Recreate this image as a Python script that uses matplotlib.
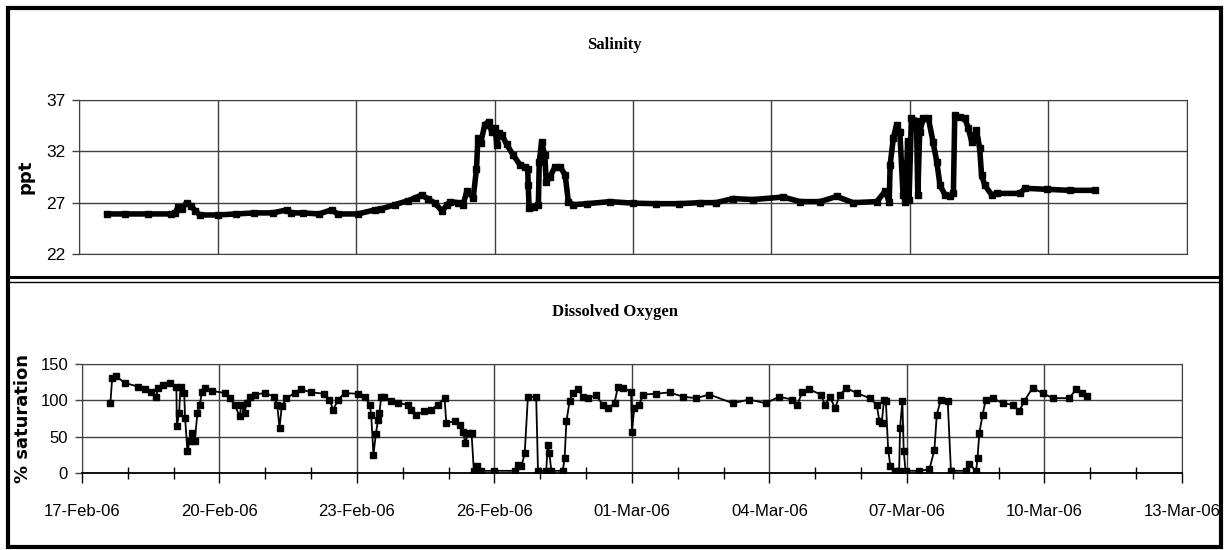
import matplotlib
matplotlib.use("Agg")
import matplotlib.pyplot as plt
import matplotlib.dates as mdates
from matplotlib.lines import Line2D
from matplotlib.patches import Rectangle
import pandas as pd

start = pd.Timestamp("2006-02-17")
end = pd.Timestamp("2006-03-13")

# salinity (ppt): days after 17-Feb-06, value
sal_days = [0.60, 1.00, 1.50, 2.00, 2.08, 2.15, 2.22, 2.33, 2.42, 2.52, 2.62, 3.00, 3.40,
            3.80, 4.20, 4.50, 4.60, 4.85, 5.20, 5.47, 5.60, 6.04, 6.41, 6.55, 6.84, 7.13,
            7.30, 7.42, 7.55, 7.71, 7.86, 7.98, 8.04, 8.20, 8.32, 8.40, 8.54, 8.61, 8.64,
            8.70, 8.79, 8.87, 8.94, 9.01, 9.05, 9.10, 9.16, 9.26, 9.41, 9.55, 9.65, 9.72,
            9.73, 9.75, 9.85, 9.95, 9.97, 10.02, 10.09, 10.12, 10.20, 10.31, 10.42, 10.53,
            10.60, 10.71, 11.00, 11.50, 12.01, 12.50, 13.00, 13.45, 13.80, 14.17, 14.60,
            15.25, 15.62, 16.05, 16.41, 16.77, 17.28, 17.46, 17.55, 17.57, 17.64, 17.71,
            17.78, 17.85, 17.90, 17.95, 17.98, 18.03, 18.14, 18.17, 18.21, 18.29, 18.40,
            18.50, 18.58, 18.65, 18.76, 18.86, 18.94, 18.97, 19.08, 19.19, 19.26, 19.34,
            19.41, 19.44, 19.51, 19.55, 19.62, 19.77, 19.88, 20.38, 20.49, 20.96, 21.46,
            22.00]
sal_vals = [25.9, 25.9, 25.9, 25.9, 26.0, 26.6, 26.4, 27.0, 26.7, 26.2, 25.8, 25.8, 25.9,
            26.0, 26.0, 26.3, 26.0, 26.0, 25.9, 26.3, 25.9, 25.9, 26.3, 26.4, 26.8, 27.2,
            27.5, 27.75, 27.4, 26.95, 26.2, 26.8, 27.1, 27.0, 26.8, 28.1, 27.5, 30.3, 33.3,
            32.8, 34.6, 34.9, 33.9, 34.3, 32.6, 33.8, 33.6, 32.7, 31.6, 30.7, 30.5, 30.3,
            28.7, 26.5, 26.6, 26.8, 31.0, 32.9, 31.6, 29.0, 29.5, 30.5, 30.5, 29.7,
            27.1, 26.8, 26.9, 27.1, 26.95, 26.9, 26.9, 27.0, 27.0, 27.4, 27.3,
            27.55, 27.1, 27.1, 27.6, 27.0, 27.1, 28.1, 27.1, 30.7, 33.3, 34.6,
            33.9, 27.75, 27.1, 33.0, 27.3, 35.2, 35.0, 27.75, 33.9, 35.2, 35.2,
            32.9, 31.0, 28.7, 27.75, 27.6, 27.9, 35.5, 35.3, 35.2, 34.3, 32.9,
            33.6, 34.1, 32.3, 29.7, 28.7, 27.75, 27.9, 27.9, 28.4, 28.3, 28.2,
            28.2]

# dissolved oxygen (% saturation)
do_days = [0.62, 0.66, 0.75, 0.93, 1.22, 1.37, 1.51, 1.62, 1.66, 1.76, 1.91, 2.06, 2.07,
           2.12, 2.15, 2.23, 2.25, 2.30, 2.35, 2.40, 2.46, 2.52, 2.57, 2.62, 2.68, 2.83,
           3.12, 3.22, 3.33, 3.44, 3.48, 3.55, 3.59, 3.66, 3.77, 3.99, 4.20, 4.26, 4.31,
           4.36, 4.46, 4.64, 4.78, 5.00, 5.29, 5.40, 5.48, 5.59, 5.73, 6.02, 6.17, 6.28,
           6.31, 6.36, 6.41, 6.46, 6.49, 6.53, 6.60, 6.75, 6.89, 7.11, 7.18, 7.29, 7.47,
           7.62, 7.76, 7.91, 7.95, 8.13, 8.25, 8.32, 8.36, 8.43, 8.50, 8.55, 8.61, 8.70,
           9.00, 9.45, 9.52, 9.59, 9.66, 9.73, 9.91, 9.95, 10.13, 10.16, 10.20, 10.24,
           10.49, 10.53, 10.57, 10.64, 10.71, 10.82, 10.93, 11.04, 11.22, 11.36, 11.47,
           11.62, 11.69, 11.80, 11.98, 12.00, 12.05, 12.16, 12.24, 12.53, 12.82, 13.11,
           13.40, 13.69, 14.20, 14.56, 14.92, 15.21, 15.50, 15.61, 15.72, 15.87, 16.12,
           16.21, 16.32, 16.43, 16.54, 16.68, 16.90, 17.19, 17.34, 17.40, 17.45, 17.50,
           17.54, 17.59, 17.64, 17.74, 17.83, 17.85, 17.90, 17.93, 17.97, 18.27, 18.49,
           18.60, 18.65, 18.74, 18.89, 18.96, 19.29, 19.36, 19.51, 19.54, 19.58, 19.65,
           19.72, 19.87, 20.09, 20.31, 20.45, 20.56, 20.74, 20.96, 21.18, 21.54, 21.69,
           21.83, 21.93]
do_vals = [97, 131, 133, 124, 119, 115, 112, 105, 117, 121, 124, 119, 64,
           83, 119, 110, 76, 30, 44, 55, 44, 83, 94, 112, 117, 113,
           110, 103, 94, 78, 94, 83, 96, 105, 108, 110, 105, 94, 62,
           92, 103, 110, 115, 111, 109, 101, 87, 101, 110, 109, 105, 94,
           80, 25, 53, 73, 83, 105, 105, 99, 96, 94, 87, 80, 85,
           87, 94, 103, 69, 71, 66, 57, 41, 55, 55, 3, 9, 3,
           3, 3, 11, 9, 27, 105, 105, 3, 3, 38, 27, 3,
           3, 20, 71, 99, 110, 115, 105, 103, 107, 94, 89,
           96, 118, 117, 112, 57, 89, 94, 108, 109, 111, 105,
           103, 108, 96, 101, 96, 105, 101, 94, 112, 115, 108,
           94, 105, 89, 108, 117, 110, 103, 94, 71, 69, 101,
           99, 32, 9, 3, 3, 62, 99, 30, 3, 3, 5,
           32, 80, 101, 99, 3, 3, 12, 3, 21, 55, 80,
           101, 103, 96, 94, 85, 99, 117, 110, 103, 103, 115,
           110, 106]

sal_t = start + pd.to_timedelta(sal_days, unit="D")
do_t = start + pd.to_timedelta(do_days, unit="D")
major = pd.date_range(start, end, freq="3D")
minor = pd.date_range(start, end, freq="D")

grid_col = "#404040"
tick_font = "Liberation Sans"

fig = plt.figure(figsize=(12.29, 5.5), dpi=100)

# --- salinity panel
ax1 = fig.add_axes([0.0643, 0.5382, 0.9015, 0.28])
ax1.plot(sal_t, sal_vals, color="black", lw=4, marker="s", ms=4.5, solid_joinstyle="round")
ax1.set_xlim(start, end)
ax1.set_ylim(22, 37)
ax1.set_yticks([22, 27, 32, 37])
ax1.set_xticks(major)
ax1.tick_params(axis="x", length=0, labelbottom=False)
ax1.tick_params(axis="y", length=5, width=1, color=grid_col, pad=5)
ax1.grid(True, color=grid_col, lw=1)
for s in ax1.spines.values():
    s.set_color(grid_col)
ax1.set_ylabel("ppt", fontsize=13, fontweight="bold", labelpad=8)
for lab in ax1.get_yticklabels():
    lab.set_family(tick_font)
    lab.set_fontsize(12.5)

# --- dissolved oxygen panel
ax2 = fig.add_axes([0.0667, 0.14, 0.895, 0.1982])
ax2.plot(do_t, do_vals, color="black", lw=1.3, marker="s", ms=3.8)
ax2.set_xlim(start, end)
ax2.set_ylim(0, 150)
ax2.set_yticks([0, 50, 100, 150])
ax2.set_xticks(major)
ax2.set_xticks(minor, minor=True)
ax2.xaxis.set_major_formatter(mdates.DateFormatter("%d-%b-%y"))
ax2.tick_params(axis="x", which="major", direction="out", length=7, width=1, pad=15)
ax2.tick_params(axis="x", which="minor", direction="inout", length=9, width=1)
ax2.tick_params(axis="y", length=5, width=1, color=grid_col, pad=5)
ax2.grid(True, which="major", color=grid_col, lw=1)
for s in ax2.spines.values():
    s.set_color(grid_col)
ax2.spines["bottom"].set_color("black")
ax2.spines["bottom"].set_linewidth(1.3)
ax2.set_ylabel("% saturation", fontsize=13, fontweight="bold", labelpad=6)
for lab in ax2.get_yticklabels() + ax2.get_xticklabels():
    lab.set_family(tick_font)
    lab.set_fontsize(12)

# titles
fig.text(0.5, 1 - 45 / 550, "Salinity", ha="center", va="center",
         family="Liberation Serif", fontweight="bold", fontsize=12)
fig.text(0.5, 1 - 312 / 550, "Dissolved Oxygen", ha="center", va="center",
         family="Liberation Serif", fontweight="bold", fontsize=12)

# outer frame and panel divider
fig.add_artist(Rectangle((8 / 1229, 3 / 550), 1213 / 1229, 539 / 550, transform=fig.transFigure,
                         fill=False, edgecolor="black", lw=3))
fig.add_artist(Line2D([8 / 1229, 1221 / 1229], [1 - 276.5 / 550] * 2,
                      transform=fig.transFigure, color="black", lw=2.2))
fig.add_artist(Line2D([8 / 1229, 1221 / 1229], [1 - 281.5 / 550] * 2,
                      transform=fig.transFigure, color="black", lw=1))

fig.savefig("out.png", dpi=100)
